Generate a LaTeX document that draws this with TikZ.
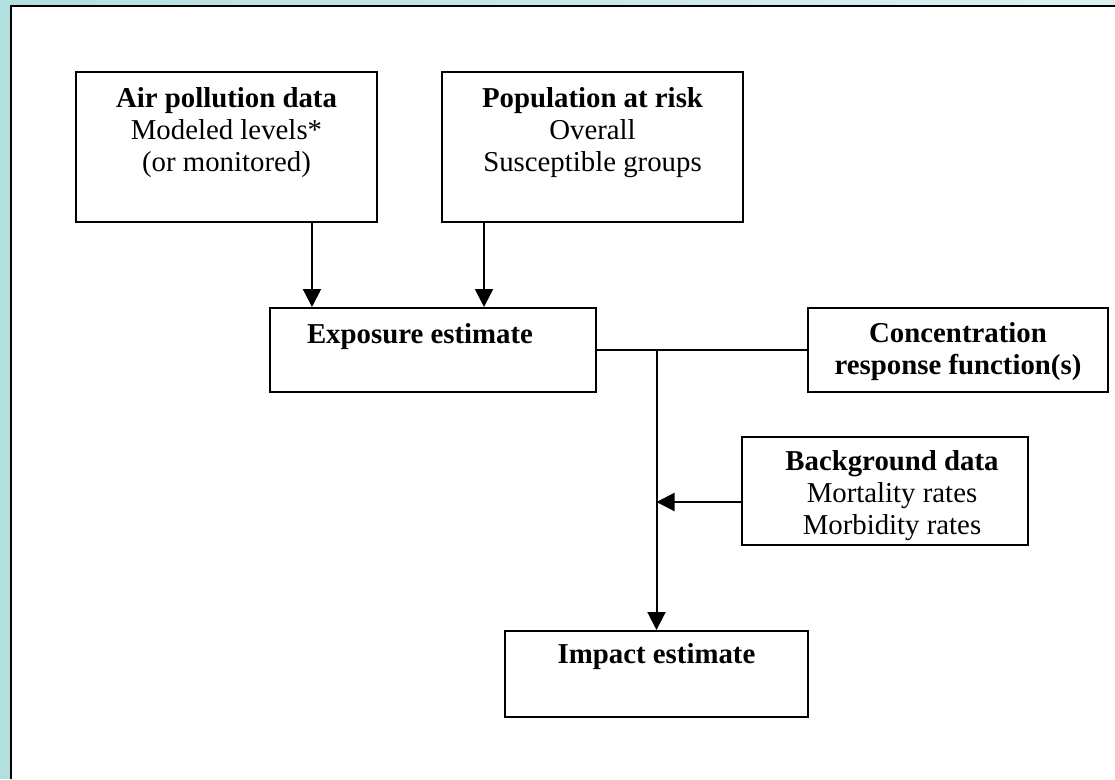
\documentclass[tikz,border=0pt]{standalone}
\usepackage{fontspec}
\setmainfont{Liberation Serif}
\usepackage{xcolor}
\usetikzlibrary{arrows.meta}

\definecolor{frameteal}{RGB}{178,224,223}
\definecolor{frametealpale}{RGB}{222,241,240}

\begin{document}
\begin{tikzpicture}[x=0.02cm, y=-0.02cm,
	box/.style={draw, line width=0.04cm, inner sep=0pt},
	txt/.style={align=center, font=\fontsize{16.4}{18.2}\selectfont},
	arrow/.style={line width=0.04cm, -{Triangle[length=0.36cm, width=0.36cm]}},
	link/.style={line width=0.04cm}]
	\useasboundingbox (0, 0) rectangle (1115, 779);

	% Frame round the page
	\fill[frameteal] (0, 0) rectangle (1115, 779);
	\shade[left color=frameteal, right color=frametealpale] (0, 0) rectangle (1115, 6);
	\fill[white] (11, 6) rectangle (1115, 779);
	\draw[line width=0.05cm] (11, 779) -- (11, 6) -- (1115, 6);

	% Define the boxes with specific positions
	\node[box, minimum width=6.02cm, minimum height=3cm] (air) at (226.5, 147) {};
	\node[box, minimum width=6.02cm, minimum height=3cm] (pop) at (592.5, 147) {};
	\node[box, minimum width=6.52cm, minimum height=1.68cm] (expo) at (433, 350) {};
	\node[box, minimum width=6cm, minimum height=1.68cm] (conc) at (958, 350) {};
	\node[box, minimum width=5.72cm, minimum height=2.16cm] (back) at (885, 491) {};
	\node[box, minimum width=6.06cm, minimum height=1.72cm] (impact) at (656.5, 674) {};

	% Texts in the boxes
	\node[txt] (airtxt) at (226.5, 133) {\textbf{Air pollution data}\\Modeled levels*\\(or monitored)};
	\node[txt] (poptxt) at (592.5, 133) {\textbf{Population at risk}\\Overall\\Susceptible groups};
	\node[txt] (expotxt) at (420, 337) {\textbf{Exposure estimate}};
	\node[txt] (conctxt) at (958, 352) {\textbf{Concentration}\\\textbf{response function(s)}};
	\node[txt] (backtxt) at (892, 496) {\textbf{Background data}\\Mortality rates\\Morbidity rates};
	\node[txt] (impacttxt) at (656.5, 657) {\textbf{Impact estimate}};

	% Draw the connectors between boxes
	\draw[arrow] ([xshift=1.71cm]air.south) -- ([xshift=1.71cm]air.south |- expo.north);
	\draw[arrow] ([xshift=-2.17cm]pop.south) -- ([xshift=-2.17cm]pop.south |- expo.north);
	\draw[link] (expo.east) -- (conc.west);
	\coordinate (join) at (impact.north |- expo.east);
	\draw[arrow] (join) -- (impact.north);
	\draw[arrow] ([yshift=-0.22cm]back.west) -- ([yshift=-0.22cm]back.west -| join);
\end{tikzpicture}
\end{document}
